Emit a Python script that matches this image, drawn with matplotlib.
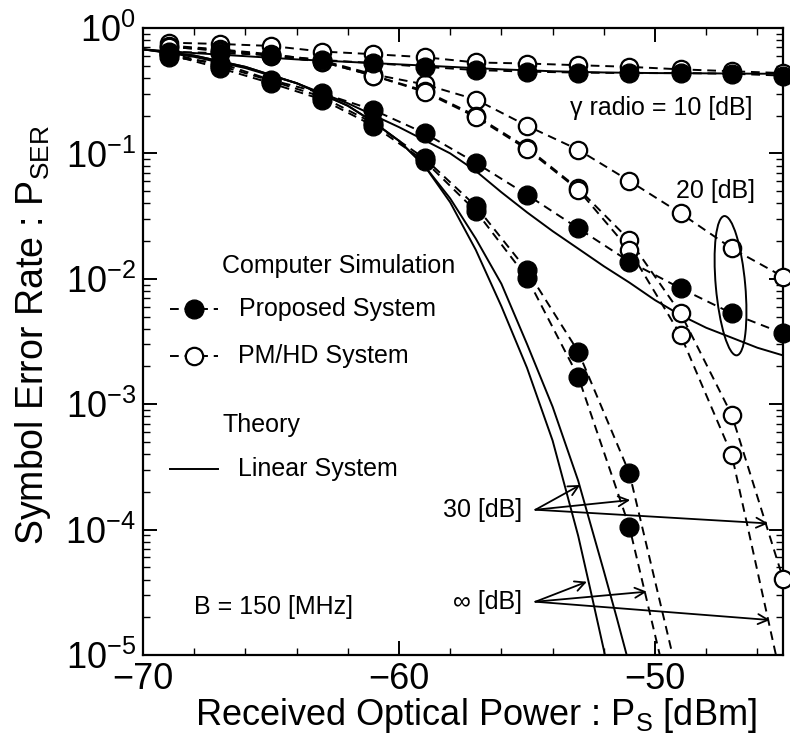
import matplotlib
matplotlib.use("Agg")
import matplotlib.pyplot as plt
from matplotlib.patches import Ellipse
from matplotlib.ticker import MultipleLocator, LogLocator, NullFormatter, FixedLocator, FixedFormatter

plt.rcParams["font.family"] = ["Liberation Sans", "DejaVu Sans"]
plt.rcParams["mathtext.default"] = "regular"

# computer simulation points, received optical power [dBm]
p_sim = [-69, -67, -65, -63, -61, -59, -57, -55, -53, -51, -49, -47, -45]
p_sim_prop = [-69, -67, -65, -63, -61, -59, -57, -55, -53, -51]
p_sim_pm_inf = [-69, -67, -65, -63, -61, -59, -57, -55, -53, -51, -49, -47]

# proposed system (filled circles)
prop_10 = [0.646, 0.631, 0.610, 0.556, 0.525, 0.490, 0.462, 0.449, 0.441, 0.437, 0.437, 0.432, 0.417]
prop_20 = [0.589, 0.525, 0.385, 0.302, 0.222, 0.145, 0.0841, 0.0468, 0.0253, 0.0137, 0.0084, 0.0053, 0.00367]
prop_30 = [0.631, 0.501, 0.380, 0.282, 0.174, 0.0912, 0.0380, 0.0117, 0.00263, 2.82e-4]
prop_inf = [0.617, 0.479, 0.363, 0.269, 0.166, 0.0871, 0.0347, 0.0102, 0.00166, 1.05e-4]
# where the dashed fits leave the frame
prop_30_tail = ([-49.2], [8.0e-6])
prop_inf_tail = ([-49.7], [8.0e-6])

# PM/HD system (open circles)
pm_10 = [0.764, 0.746, 0.719, 0.649, 0.618, 0.585, 0.531, 0.521, 0.505, 0.490, 0.468, 0.452, 0.437]
pm_20 = [0.724, 0.676, 0.617, 0.550, 0.427, 0.355, 0.269, 0.166, 0.107, 0.0603, 0.0333, 0.0175, 0.0104]
pm_30 = [0.708, 0.661, 0.603, 0.537, 0.417, 0.316, 0.200, 0.111, 0.0525, 0.0204, 0.00531, 8.2e-4, 4.07e-5]
pm_inf = [0.708, 0.661, 0.603, 0.537, 0.417, 0.309, 0.195, 0.108, 0.0513, 0.0170, 0.00356, 3.94e-4]
pm_inf_tail = ([-45.2], [8.5e-6])

# theory, linear system
th_10_p = [-70, -68, -66, -64, -62, -60, -58, -56, -54, -52, -50, -48, -46, -45]
th_10 = [0.676, 0.631, 0.596, 0.562, 0.537, 0.513, 0.490, 0.468, 0.452, 0.442, 0.437, 0.435, 0.432, 0.432]
th_20_p = [-70, -68, -66, -64, -62, -60, -58, -57, -56, -55, -54, -53, -52, -51, -50, -49, -48, -47, -46, -45]
th_20 = [0.676, 0.589, 0.479, 0.363, 0.251, 0.162, 0.100, 0.0724, 0.0490, 0.0339, 0.0240, 0.0174,
         0.0126, 0.00933, 0.00676, 0.00513, 0.00407, 0.00339, 0.00282, 0.00245]
th_30_p = [-70, -68, -66, -64, -62, -61, -60, -59, -58, -57, -56, -55, -54, -53, -52, -51.5, -51.0]
th_30 = [0.676, 0.603, 0.490, 0.363, 0.240, 0.178, 0.126, 0.0794, 0.0437, 0.0209, 0.00912, 0.00302,
         9.55e-4, 2.45e-4, 4.68e-5, 2.0e-5, 8.3e-6]
th_inf_p = [-70, -68, -66, -64, -62, -61, -60, -59, -58, -57, -56, -55, -54, -53, -52.5, -52.0, -51.9]
th_inf = [0.676, 0.603, 0.490, 0.363, 0.240, 0.178, 0.126, 0.0794, 0.0407, 0.0170, 0.00603, 0.00195,
          5.13e-4, 8.91e-5, 3.16e-5, 1.10e-5, 8.7e-6]

x_ticks = [-70, -60, -50]
y_ticks = [1e-5, 1e-4, 1e-3, 1e-2, 1e-1, 1]
y_tick_labels = ["$10^{-5}$", "$10^{-4}$", "$10^{-3}$", "$10^{-2}$", "$10^{-1}$", "$10^{0}$"]

dash = (0, (4.5, 3.0))
filled = dict(marker="o", ms=13.5, mfc="black", mec="black", ls="none", zorder=6, clip_on=False)
hollow = dict(marker="o", ms=12.5, mfc="white", mec="black", mew=1.6, ls="none", zorder=5, clip_on=False)

fig = plt.figure(figsize=(7.9, 7.38), dpi=100)
ax = fig.add_axes([143 / 790, 1 - 655 / 738, 640 / 790, 627 / 738])
ax.set_yscale("log")
ax.set_xlim(-70, -45)
ax.set_ylim(1e-5, 1)

# theory curves
for px, py in [(th_10_p, th_10), (th_20_p, th_20), (th_30_p, th_30), (th_inf_p, th_inf)]:
    ax.plot(px, py, color="black", lw=1.4, zorder=3)

# dashed simulation curves
ax.plot(p_sim, prop_10, color="black", lw=1.4, ls=dash, zorder=4)
ax.plot(p_sim, prop_20, color="black", lw=1.4, ls=dash, zorder=4)
ax.plot(p_sim_prop + prop_30_tail[0], prop_30 + prop_30_tail[1], color="black", lw=1.4, ls=dash, zorder=4)
ax.plot(p_sim_prop + prop_inf_tail[0], prop_inf + prop_inf_tail[1], color="black", lw=1.4, ls=dash, zorder=4)
ax.plot(p_sim, pm_10, color="black", lw=1.4, ls=dash, zorder=4)
ax.plot(p_sim, pm_20, color="black", lw=1.4, ls=dash, zorder=4)
ax.plot(p_sim, pm_30, color="black", lw=1.4, ls=dash, zorder=4)
ax.plot(p_sim_pm_inf + pm_inf_tail[0], pm_inf + pm_inf_tail[1], color="black", lw=1.4, ls=dash, zorder=4)

# markers
for vals in [pm_10, pm_20, pm_30]:
    ax.plot(p_sim, vals, **hollow)
ax.plot(p_sim_pm_inf, pm_inf, **hollow)
for vals in [prop_10, prop_20]:
    ax.plot(p_sim, vals, **filled)
for vals in [prop_30, prop_inf]:
    ax.plot(p_sim_prop, vals, **filled)

# axes styling
ax.xaxis.set_major_locator(FixedLocator(x_ticks))
ax.xaxis.set_minor_locator(MultipleLocator(2))
ax.yaxis.set_major_locator(FixedLocator(y_ticks))
ax.yaxis.set_major_formatter(FixedFormatter(y_tick_labels))
ax.yaxis.set_minor_locator(LogLocator(base=10, subs=range(2, 10)))
ax.yaxis.set_minor_formatter(NullFormatter())
ax.tick_params(which="both", direction="in", top=True, right=True, labelsize=26)
ax.tick_params(which="major", length=10, width=1.4, pad=5)
ax.tick_params(which="minor", length=5, width=1.0)
for s in ax.spines.values():
    s.set_linewidth(1.6)

ax.set_xlabel("Received Optical Power : $P_S$ [dBm]", fontsize=26, va="center")
ax.xaxis.set_label_coords(0.52, -0.097)
ax.set_ylabel("Symbol Error Rate : $P_{SER}$", fontsize=27, va="center")
ax.yaxis.set_label_coords(-0.172, 0.51)

# in-plot legend
fs = 18
ax.text(0.124, 0.621, "Computer Simulation", transform=ax.transAxes, fontsize=fs, va="center")
ax.plot([0.042, 0.08, 0.117], [0.552] * 3, transform=ax.transAxes, color="black", lw=1.4, ls=dash,
        marker="o", markevery=[1], ms=13.5, mfc="black", mec="black", clip_on=False)
ax.text(0.150, 0.552, "Proposed System", transform=ax.transAxes, fontsize=fs, va="center")
ax.plot([0.042, 0.08, 0.117], [0.477] * 3, transform=ax.transAxes, color="black", lw=1.4, ls=dash,
        marker="o", markevery=[1], ms=12.5, mfc="white", mec="black", mew=1.6, clip_on=False)
ax.text(0.148, 0.477, "PM/HD System", transform=ax.transAxes, fontsize=fs, va="center")
ax.text(0.124, 0.367, "Theory", transform=ax.transAxes, fontsize=fs, va="center")
ax.plot([0.042, 0.117], [0.297] * 2, transform=ax.transAxes, color="black", lw=1.4)
ax.text(0.148, 0.297, "Linear System", transform=ax.transAxes, fontsize=fs, va="center")
ax.text(0.080, 0.077, "B = 150 [MHz]", transform=ax.transAxes, fontsize=fs, va="center")

# curve labels
ax.text(0.952, 0.872, "\u03b3 radio = 10 [dB]", transform=ax.transAxes, fontsize=fs, va="center", ha="right")
ax.text(0.956, 0.740, "20 [dB]", transform=ax.transAxes, fontsize=fs, va="center", ha="right")
ax.text(0.592, 0.231, "30 [dB]", transform=ax.transAxes, fontsize=fs, va="center", ha="right")
ax.text(0.592, 0.085, "\u221e [dB]", transform=ax.transAxes, fontsize=fs, va="center", ha="right")

ax.add_patch(Ellipse((0.918, 0.589), 0.046, 0.223, angle=5, transform=ax.transAxes,
                     fill=False, lw=1.4, ec="black", zorder=7))

arrow = dict(arrowstyle="->", lw=1.3, color="black", mutation_scale=18, shrinkA=0, shrinkB=0)
for tip in [(-52.92, 2.27e-4), (-50.97, 1.72e-4), (-45.58, 1.12e-4)]:
    ax.annotate("", xy=tip, xytext=(-54.67, 1.44e-4), arrowprops=arrow)
for tip in [(-52.66, 3.84e-5), (-50.32, 3.2e-5), (-45.51, 1.9e-5)]:
    ax.annotate("", xy=tip, xytext=(-54.67, 2.66e-5), arrowprops=arrow)

fig.savefig("out.png", dpi=100)
